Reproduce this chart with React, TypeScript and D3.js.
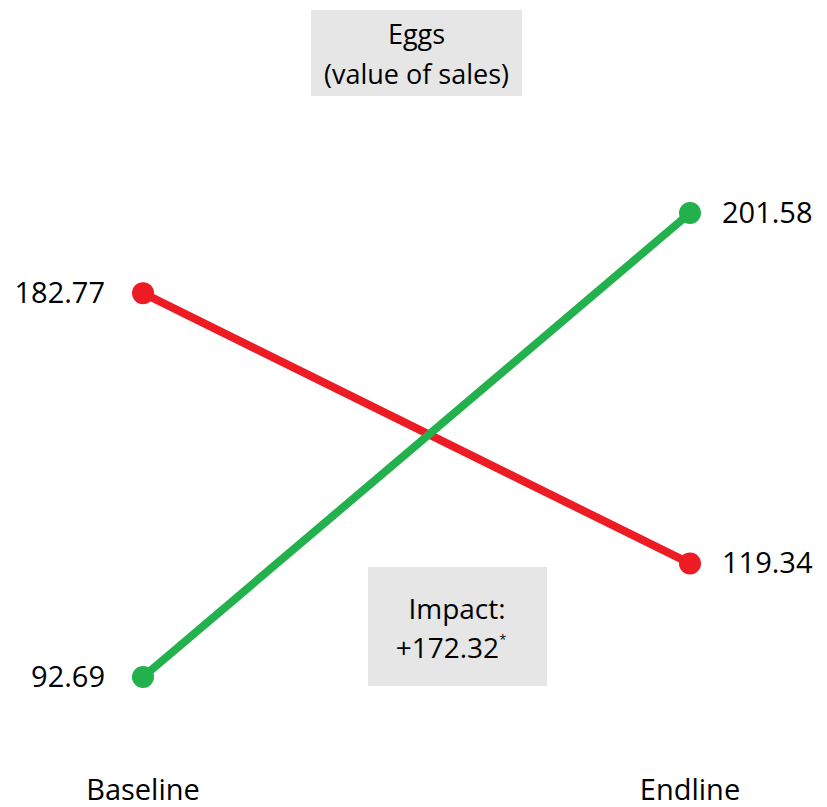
import React from "react";
import * as d3 from "d3";

const periods = ["Baseline", "Endline"];
const seriesNames = ["Comparison", "Treatment"];
const comparisonValues = [182.77, 119.34];
const treatmentValues = [92.69, 201.58];
const seriesColors = ["#ED1C24", "#22B14C"];
const titleLines = ["Eggs", "(value of sales)"];
const impactLines = ["Impact:", "+172.32"];

const W = 827;
const H = 807;
const FONT = "'Open Sans', 'Noto Sans', sans-serif";
const FS = 29;

export default function App() {
  const x = d3.scalePoint<string>().domain(periods).range([143, 690]);
  const y = d3.scaleLinear().domain([92.69, 201.58]).range([677, 213]);
  const line = d3
    .line<number>()
    .x((_, i) => x(periods[i]) as number)
    .y((d) => y(d));
  const series = [comparisonValues, treatmentValues];

  return (
    <svg
      width={W}
      height={H}
      style={{ position: "absolute", left: 0, top: 0, background: "#fff" }}
      fontFamily={FONT}
    >
      {/* title box */}
      <rect x={311} y={10} width={211} height={86} fill="#E6E6E6" />
      {titleLines.map((t, i) => (
        <text key={t} x={416.5} y={44 + i * 40} textAnchor="middle" fontSize={27} fill="#000">
          {t}
        </text>
      ))}

      {/* impact box */}
      <rect x={368} y={567} width={179} height={119} fill="#E6E6E6" />
      <text x={457} y={619} textAnchor="middle" fontSize={28} fill="#000">
        {impactLines[0]}
      </text>
      <text x={451} y={658} textAnchor="middle" fontSize={28} fill="#000">
        {impactLines[1]}
        <tspan dy={-14} fontSize={13}>*</tspan>
      </text>

      {series.map((vals, si) => (
        <g key={seriesNames[si]}>
          <path d={line(vals) || ""} fill="none" stroke={seriesColors[si]} strokeWidth={8} />
          {vals.map((v, i) => (
            <circle key={i} cx={x(periods[i])} cy={y(v)} r={11} fill={seriesColors[si]} />
          ))}
          {vals.map((v, i) => (
            <text
              key={"l" + i}
              x={(x(periods[i]) as number) + (i === 0 ? -38 : 32)}
              y={y(v) + 10}
              textAnchor={i === 0 ? "end" : "start"}
              fontSize={FS}
              fill="#000"
            >
              {v.toFixed(2)}
            </text>
          ))}
        </g>
      ))}

      {periods.map((p) => (
        <text key={p} x={x(p)} y={800} textAnchor="middle" fontSize={FS} fill="#000">
          {p}
        </text>
      ))}
    </svg>
  );
}
